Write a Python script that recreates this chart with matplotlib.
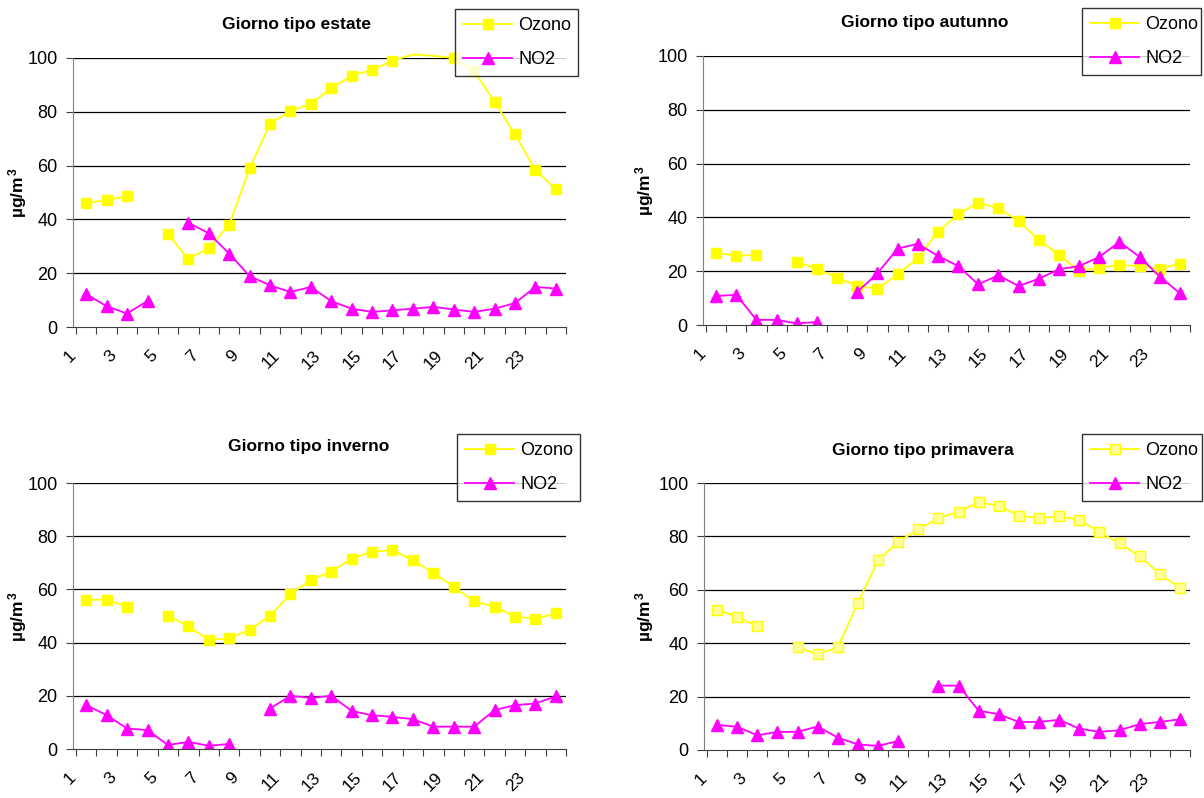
import numpy as np
import matplotlib.pyplot as plt

nan = np.nan
ore = list(range(1, 25))

# Ozono / NO2 giorno tipo (ug/m3)
ozono_estate = [46, 47.2, 48.7, nan, 34.5, 25.3, 29.3, 37.9, 59, 75.5, 80.3, 83,
                88.8, 93.4, 95.6, 99, 101.3, 100.8, 100, 95, 83.7, 71.6, 58.4, 51.2]
no2_estate = [12.2, 7.7, 5.0, 9.7, nan, 38.8, 34.8, 27.3, 18.9, 15.5, 13.0, 14.9,
              9.6, 6.8, 5.6, 6.2, 6.8, 7.5, 6.5, 5.6, 6.8, 8.9, 14.9, 14.3]

ozono_autunno = [26.9, 25.7, 26.1, nan, 23.5, 20.9, 17.6, 14.5, 13.5, 18.8, 24.8, 34.7,
                 41.1, 45.5, 43.4, 38.7, 31.6, 26.1, 20.1, 21.3, 22.3, 21.9, 20.9, 22.8]
no2_autunno = [10.8, 11.2, 1.9, 1.9, 0.6, 1.1, nan, 12.3, 19.2, 28.4, 30.2, 25.7,
               21.9, 15.1, 18.5, 14.5, 17.2, 20.7, 21.9, 25.3, 30.9, 25.3, 18.0, 11.8]

ozono_inverno = [56.1, 56.1, 53.5, nan, 50.1, 46.1, 41.0, 41.6, 44.8, 50.1, 58.2, 63.5,
                 66.7, 71.6, 74.2, 74.8, 70.9, 66.3, 61.0, 55.5, 53.5, 49.8, 48.9, 51.0]
no2_inverno = [16.5, 12.7, 7.7, 7.1, 1.5, 2.7, 1.2, 1.9, nan, 15.2, 20.0, 19.2,
               20.0, 14.3, 12.7, 12.1, 11.2, 8.4, 8.4, 8.4, 14.6, 16.5, 17.1, 19.8]

ozono_primavera = [52.6, 49.8, 46.4, nan, 38.5, 35.8, 38.5, 55.2, 71.1, 78.0, 82.7, 86.8,
                   89.3, 92.7, 91.5, 87.8, 86.8, 87.5, 86.2, 81.6, 77.4, 72.6, 65.9, 60.7]
no2_primavera = [9.4, 8.7, 5.5, 6.8, 6.8, 8.8, 4.6, 2.1, 1.5, 3.4, nan, 24.1,
                 24.1, 14.7, 13.4, 10.5, 10.5, 11.3, 8.0, 6.8, 7.4, 9.7, 10.5, 11.5]

titoli = ["Giorno tipo estate", "Giorno tipo autunno", "Giorno tipo inverno", "Giorno tipo primavera"]

plt.rcParams['font.family'] = ['Liberation Sans', 'DejaVu Sans']
plt.rcParams['mathtext.fontset'] = 'custom'
plt.rcParams['mathtext.rm'] = 'Liberation Sans:bold'
plt.rcParams['mathtext.it'] = 'Liberation Sans:bold'
plt.rcParams['mathtext.bf'] = 'Liberation Sans:bold'

W, H = 1204, 798
fig = plt.figure(figsize=(W/100, H/100), dpi=100)

# pannelli: (left, top, right, bottom) in pixel
box = [(73, 58, 566, 327), (703, 56, 1190, 325), (73, 483, 566, 749), (704, 483, 1190, 750)]
title_pos = [(297, 25), (925, 22), (309, 447), (923, 450)]
ylab_x = [18, 645, 18, 645]
leg_box = [(455, 9, 578), (1082, 8, 1201), (457, 434, 580), (1082, 434, 1202)]
ozono_fill = ['#FFFF00', '#FFFF00', '#FFFF00', '#FFFF99']

serie = [(ozono_estate, no2_estate), (ozono_autunno, no2_autunno),
         (ozono_inverno, no2_inverno), (ozono_primavera, no2_primavera)]

for i in range(4):
    l, t, r, b = box[i]
    ax = fig.add_axes([l/W, 1 - b/H, (r-l)/W, (b-t)/H])
    oz, no2 = serie[i]
    # come in Excel: i marker sopra il massimo non si vedono
    vis_oz = [j for j, v in enumerate(oz) if not v > 100]
    l1, = ax.plot(ore, oz, color='#FFFF00', lw=1.3, marker='s', ms=7.5,
                  mfc=ozono_fill[i], mec='#FFFF00', label='Ozono',
                  markevery=vis_oz, clip_on=False)
    l2, = ax.plot(ore, no2, color='#FF00FF', lw=1.3, marker='^', ms=9,
                  mfc='#FF00FF', mec='#FF00FF', label='NO2')
    ax.set_xlim(0.5, 24.5)
    ax.set_ylim(0, 100)
    ax.set_yticks([0, 20, 40, 60, 80, 100])
    for lab in ax.get_yticklabels():
        lab.set_fontsize(13)
    for yv in [20, 40, 60, 80, 100]:
        ax.axhline(yv, color='black', lw=0.9, zorder=0)
    ax.spines['top'].set_visible(False)
    ax.spines['right'].set_visible(False)
    ax.spines['left'].set_color('#808080')
    ax.spines['bottom'].set_color('#404040')
    ax.set_xticks(np.arange(0.5, 25, 1))
    ax.set_xticklabels([])
    ax.set_xticks(np.arange(1, 25, 2) - 0.65, minor=True)
    ax.set_xticklabels([str(k) for k in range(1, 25, 2)], minor=True, fontsize=12.5,
                       rotation=45, ha='right', va='center', rotation_mode='anchor')
    ax.tick_params(axis='x', which='major', length=5, direction='out', color='#404040')
    ax.tick_params(axis='x', which='minor', length=0, pad=18.7)
    ax.tick_params(axis='y', length=5, direction='out', color='#404040', pad=6)

    tx, ty = title_pos[i]
    fig.text(tx/W, 1 - ty/H, titoli[i], ha='center', va='center', fontsize=12.5, fontweight='bold')
    fig.text(ylab_x[i]/W, 1 - ((t+b)/2)/H, r'µg/m$^{\,3}$', rotation=90, ha='center', va='center',
             fontsize=12.5, fontweight='bold')

    lx0, ly0, lx1 = leg_box[i]
    leg = fig.legend(handles=[l1, l2], loc='upper left',
                     bbox_to_anchor=(lx0/W, 1 - ly0/H - 0.05, (lx1-lx0)/W, 0.05),
                     mode='expand', fontsize=13, frameon=True, fancybox=False,
                     borderaxespad=0, handlelength=2.7, labelspacing=0.95,
                     borderpad=0.45, handletextpad=0.35)
    leg.get_frame().set_edgecolor('black')
    leg.get_frame().set_linewidth(1.0)

fig.savefig('out.png', dpi=100)
